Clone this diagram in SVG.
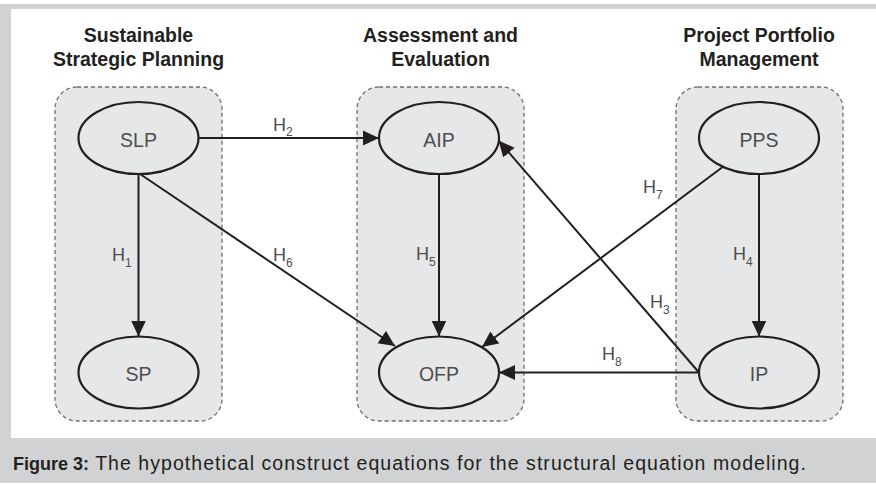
<svg xmlns="http://www.w3.org/2000/svg" width="876" height="485" viewBox="0 0 876 485">
  <style>
    .frame { fill: #d1d2d4; }
    .panel { fill: #ffffff; }
    .group { fill: #e6e7e8; stroke: #6d6e71; stroke-width: 1.3; stroke-dasharray: 4 3; }
    .title { font-family: "Liberation Sans", Arial, sans-serif; font-weight: bold; font-size: 19.5px; fill: #231f20; text-anchor: middle; }
    .node ellipse { fill: #e6e7e8; stroke: #231f20; stroke-width: 2.2; }
    .node text { font-family: "Liberation Sans", Arial, sans-serif; font-size: 19.5px; fill: #4d4d4f; text-anchor: middle; }
    .edge { fill: none; stroke: #231f20; stroke-width: 2; marker-end: url(#arrow); }
    .hlabel { font-family: "Liberation Sans", Arial, sans-serif; font-size: 18px; fill: #4d4d4f; }
    .hlabel tspan.sub { font-size: 12px; }
    .caption { font-family: "Liberation Sans", Arial, sans-serif; font-size: 19.5px; letter-spacing: 1.05px; fill: #231f20; }
    .caption .lead { font-weight: bold; font-size: 18px; letter-spacing: 0; }
  </style>
  <defs>
    <marker id="arrow" markerUnits="userSpaceOnUse" markerWidth="16" markerHeight="16" viewBox="0 0 16 16" refX="16" refY="8" orient="auto">
      <path d="M0,0.5 L16,8 L0,15.5 Z" fill="#231f20"/>
    </marker>
  </defs>

  <!-- page frame and caption band -->
  <rect class="frame" x="0" y="4" width="876" height="479"/>
  <rect class="panel" x="11" y="9" width="865" height="429"/>

  <!-- construct groups -->
  <g id="group-planning">
    <rect class="group" x="55" y="87" width="167" height="334" rx="22" ry="22"/>
    <text class="title" x="138.5" y="42">Sustainable</text>
    <text class="title" x="138.5" y="66">Strategic Planning</text>
  </g>
  <g id="group-assessment">
    <rect class="group" x="357" y="87" width="167" height="334" rx="22" ry="22"/>
    <text class="title" x="440.5" y="42">Assessment and</text>
    <text class="title" x="440.5" y="66">Evaluation</text>
  </g>
  <g id="group-portfolio">
    <rect class="group" x="676" y="87" width="167" height="334" rx="22" ry="22"/>
    <text class="title" x="759" y="42">Project Portfolio</text>
    <text class="title" x="759" y="66">Management</text>
  </g>

  <!-- hypothesis paths -->
  <g id="connectors">
    <line class="edge" x1="138.5" y1="174" x2="138.5" y2="336.5"/>
    <line class="edge" x1="198.5" y1="138" x2="379" y2="138"/>
    <line class="edge" x1="699" y1="372.5" x2="498.5" y2="140.5"/>
    <line class="edge" x1="759" y1="174" x2="759" y2="336.5"/>
    <line class="edge" x1="439" y1="174" x2="439" y2="336.5"/>
    <line class="edge" x1="140" y1="174" x2="395" y2="346"/>
    <line class="edge" x1="724" y1="166" x2="482" y2="347"/>
    <line class="edge" x1="699" y1="372.5" x2="499" y2="372.5"/>

    <text class="hlabel" x="112" y="261">H<tspan class="sub" dy="6">1</tspan></text>
    <text class="hlabel" x="273" y="131">H<tspan class="sub" dy="5">2</tspan></text>
    <text class="hlabel" x="650" y="308">H<tspan class="sub" dy="6">3</tspan></text>
    <text class="hlabel" x="733" y="260">H<tspan class="sub" dy="6">4</tspan></text>
    <text class="hlabel" x="416" y="260">H<tspan class="sub" dy="6">5</tspan></text>
    <text class="hlabel" x="273" y="261">H<tspan class="sub" dy="6">6</tspan></text>
    <text class="hlabel" x="643" y="193">H<tspan class="sub" dy="6">7</tspan></text>
    <text class="hlabel" x="602" y="360">H<tspan class="sub" dy="6">8</tspan></text>
  </g>

  <!-- constructs -->
  <g id="SLP" class="node">
    <ellipse cx="138.5" cy="138" rx="60" ry="36"/>
    <text x="138.5" y="147">SLP</text>
  </g>
  <g id="SP" class="node">
    <ellipse cx="138.5" cy="372.5" rx="60" ry="36"/>
    <text x="138.5" y="381">SP</text>
  </g>
  <g id="AIP" class="node">
    <ellipse cx="439" cy="138" rx="60" ry="36"/>
    <text x="439" y="147">AIP</text>
  </g>
  <g id="OFP" class="node">
    <ellipse cx="439" cy="372.5" rx="60" ry="36"/>
    <text x="439" y="381">OFP</text>
  </g>
  <g id="PPS" class="node">
    <ellipse cx="759" cy="138" rx="60" ry="36"/>
    <text x="759" y="147">PPS</text>
  </g>
  <g id="IP" class="node">
    <ellipse cx="759" cy="372.5" rx="60" ry="36"/>
    <text x="759" y="381">IP</text>
  </g>

  <!-- caption -->
  <text class="caption" x="13" y="470"><tspan class="lead">Figure 3:</tspan> The hypothetical construct equations for the structural equation modeling.</text>
</svg>
